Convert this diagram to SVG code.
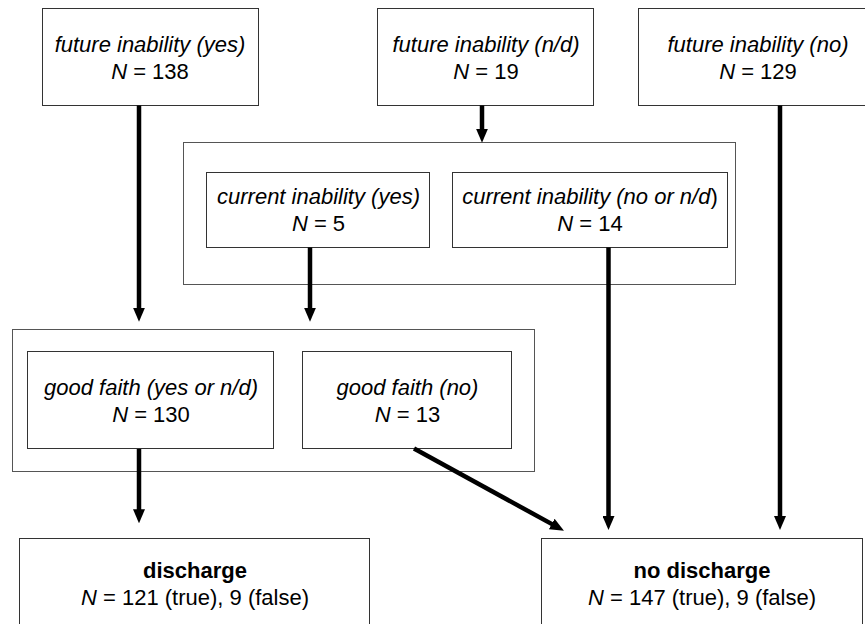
<svg xmlns="http://www.w3.org/2000/svg" width="865" height="624" viewBox="0 0 865 624">
  <defs>
    <style>
      .node { fill: #ffffff; stroke: #333333; stroke-width: 1; }
      .group { fill: #ffffff; stroke: #555555; stroke-width: 1; }
      .t { font-family: "Liberation Sans", Arial, sans-serif; font-size: 22px; fill: #000000; text-anchor: middle; }
      .i { font-style: italic; }
      .b { font-weight: bold; }
      .edge { stroke: #000000; stroke-width: 4.5; fill: none; marker-end: url(#arrow); }
    </style>
    <marker id="arrow" markerUnits="userSpaceOnUse" markerWidth="14" markerHeight="12" viewBox="0 0 14 12" refX="4" refY="6" orient="auto">
      <path d="M0,0 L14,6 L0,12 z" fill="#000000"/>
    </marker>
  </defs>
  <rect width="865" height="624" fill="#ffffff"/>

  <g id="container-current">
    <rect class="group" x="183.5" y="142.5" width="552" height="142"/>
  </g>
  <g id="container-goodfaith">
    <rect class="group" x="12.5" y="329.5" width="522" height="142"/>
  </g>

  <g id="future-yes">
    <rect class="node" x="42.5" y="8.5" width="216" height="97"/>
    <text class="t i" x="150" y="52">future inability (yes)</text>
    <text class="t" x="150" y="79"><tspan class="i">N</tspan> = 138</text>
  </g>
  <g id="future-nd">
    <rect class="node" x="377.5" y="8.5" width="216" height="97"/>
    <text class="t i" x="486" y="52">future inability (n/d)</text>
    <text class="t" x="486" y="79"><tspan class="i">N</tspan> = 19</text>
  </g>
  <g id="future-no">
    <rect class="node" x="638.5" y="8.5" width="245" height="97"/>
    <text class="t i" x="758" y="52">future inability (no)</text>
    <text class="t" x="758" y="79"><tspan class="i">N</tspan> = 129</text>
  </g>

  <g id="current-yes">
    <rect class="node" x="206.5" y="172.5" width="223" height="75"/>
    <text class="t i" x="318.5" y="204">current inability (yes)</text>
    <text class="t" x="318.5" y="231"><tspan class="i">N</tspan> = 5</text>
  </g>
  <g id="current-no">
    <rect class="node" x="452.5" y="172.5" width="275" height="75"/>
    <text class="t" x="590" y="204"><tspan class="i">current inability (no or n/d</tspan>)</text>
    <text class="t" x="590" y="231"><tspan class="i">N</tspan> = 14</text>
  </g>

  <g id="goodfaith-yes">
    <rect class="node" x="27.5" y="351.5" width="246" height="97"/>
    <text class="t i" x="151" y="395">good faith (yes or n/d)</text>
    <text class="t" x="151" y="422"><tspan class="i">N</tspan> = 130</text>
  </g>
  <g id="goodfaith-no">
    <rect class="node" x="302.5" y="351.5" width="209" height="97"/>
    <text class="t i" x="407.5" y="395">good faith (no)</text>
    <text class="t" x="407.5" y="422"><tspan class="i">N</tspan> = 13</text>
  </g>

  <g id="discharge">
    <rect class="node" x="19.5" y="538.5" width="350" height="110"/>
    <text class="t b" x="195" y="577.5">discharge</text>
    <text class="t" x="195" y="605"><tspan class="i">N</tspan> = 121 (true), 9 (false)</text>
  </g>
  <g id="no-discharge">
    <rect class="node" x="541.5" y="538.5" width="321" height="110"/>
    <text class="t b" x="702" y="577.5">no discharge</text>
    <text class="t" x="702" y="605"><tspan class="i">N</tspan> = 147 (true), 9 (false)</text>
  </g>

  <g id="connectors">
    <line class="edge" x1="139" y1="105.5" x2="139" y2="311.7"/>
    <line class="edge" x1="310" y1="247.5" x2="310" y2="311.7"/>
    <line class="edge" x1="482" y1="105.5" x2="482" y2="132.7"/>
    <line class="edge" x1="608.5" y1="247.5" x2="608.5" y2="520"/>
    <line class="edge" x1="780" y1="105.5" x2="780" y2="520"/>
    <line class="edge" x1="139" y1="449" x2="139" y2="513.3"/>
    <line class="edge" x1="414" y1="448.5" x2="555.2" y2="525.9"/>
  </g>
</svg>
